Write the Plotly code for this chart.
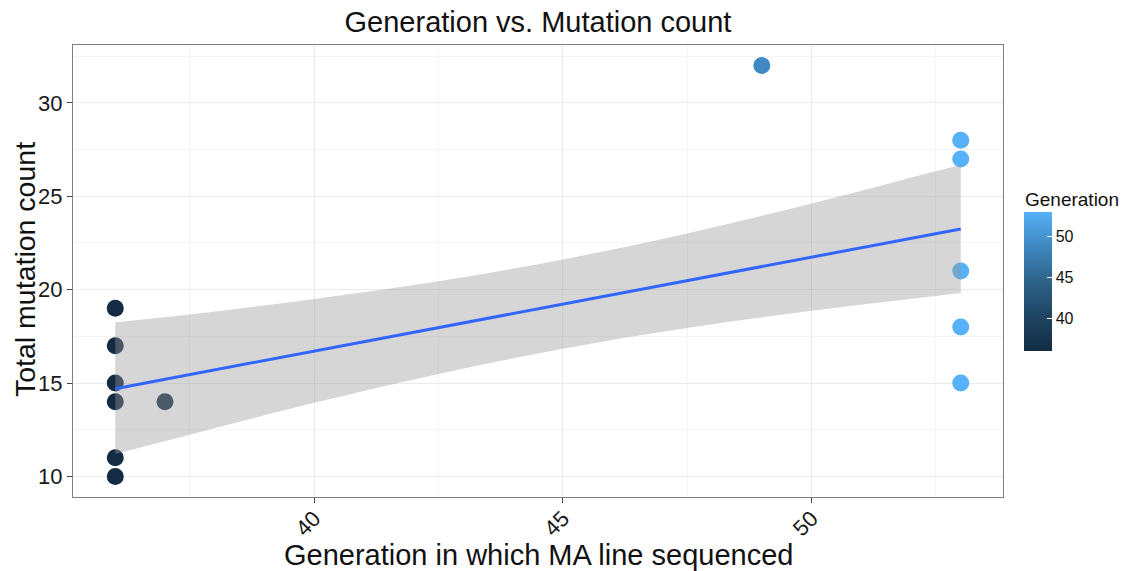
import plotly.graph_objects as go

# Generation at which each MA line was sequenced, and its total mutation count
generation = [36, 36, 36, 36, 36, 36, 37, 49, 53, 53, 53, 53, 53]
mutations = [10, 11, 14, 15, 17, 19, 14, 32, 15, 18, 21, 27, 28]

# Linear trend (lm smoother) and its 95% confidence band
trend_x = [36, 53]
trend_y = [14.70, 23.25]
band_x = [36, 37.5, 40, 42.5, 45, 47.5, 50, 52.5, 53]
band_lower = [11.20, 12.23, 13.94, 15.49, 16.84, 17.95, 18.87, 19.66, 19.82]
band_upper = [18.25, 18.67, 19.50, 20.45, 21.62, 23.01, 24.61, 26.34, 26.67]

x_ticks = [40, 45, 50]
y_ticks = [10, 15, 20, 25, 30]
cbar_ticks = [40, 45, 50]

FONT = "Liberation Sans, Arial, Helvetica, sans-serif"

# plot area in pixels: left 73, right 1003, top 45, bottom 497
def px_x(p):
    return (p - 73) / 930

def px_y(p):
    return (497 - p) / 452

fig = go.Figure()

fig.add_trace(go.Scatter(
    x=generation, y=mutations, mode="markers",
    marker=dict(
        size=17, color=generation, cmin=min(generation), cmax=max(generation),
        colorscale=[[0, "#132B43"], [0.25, "#1F4563"], [0.5, "#2D6288"],
                    [0.75, "#3F87C0"], [1, "#56B1F7"]],
        line=dict(width=0),
        showscale=True,
        colorbar=dict(
            x=px_x(1024), xanchor="left",
            y=px_y(281.5), yanchor="middle",
            len=139, lenmode="pixels", ypad=0, xpad=0,
            thickness=28, outlinewidth=0,
            tickvals=cbar_ticks, ticks="inside", ticklen=5,
            tickcolor="white", tickwidth=1,
            tickfont=dict(family=FONT, size=16, color="#111"),
        ),
    ),
    showlegend=False, hoverinfo="x+y",
))

# confidence band: lower edge, then upper edge filled down to it
fig.add_trace(go.Scatter(
    x=band_x, y=band_lower, mode="lines", line=dict(width=0, shape="spline"),
    showlegend=False, hoverinfo="skip",
))
fig.add_trace(go.Scatter(
    x=band_x, y=band_upper, mode="lines", line=dict(width=0, shape="spline"),
    fill="tonexty", fillcolor="rgba(153,153,153,0.4)",
    showlegend=False, hoverinfo="skip",
))

fig.add_trace(go.Scatter(
    x=trend_x, y=trend_y, mode="lines", line=dict(color="#3366FF", width=3),
    showlegend=False, hoverinfo="skip",
))

axis_common = dict(
    showline=True, linecolor="#7F7F7F", linewidth=1, mirror=True,
    showgrid=True, gridcolor="#EBEBEB", gridwidth=1,
    minor=dict(showgrid=True, gridcolor="#F5F5F5", gridwidth=1),
    ticks="outside", ticklen=5, tickcolor="#444", tickwidth=1,
    tickfont=dict(family=FONT, size=22, color="#1a1a1a"),
    zeroline=False,
)

fig.update_xaxes(range=[35.15, 53.85], tickvals=x_ticks, tickangle=-45,
                 ticklabelstandoff=-6,
                 minor_dtick=2.5, minor_tick0=37.5, **axis_common)
fig.update_yaxes(range=[8.9, 33.1], tickvals=y_ticks,
                 minor_dtick=2.5, minor_tick0=12.5, **axis_common)

fig.update_layout(
    width=1121, height=571,
    margin=dict(l=73, r=118, t=45, b=74, autoexpand=False),
    paper_bgcolor="white", plot_bgcolor="white",
    font=dict(family=FONT, color="#111"),
    title=dict(text="Generation vs. Mutation count", x=0.5, xref="paper",
               y=1 - 22 / 571, yref="container", yanchor="middle",
               font=dict(family=FONT, size=29, color="#111")),
    annotations=[
        dict(text="Generation in which MA line sequenced", xref="paper", yref="paper",
             x=0.5, y=px_y(555), xanchor="center", yanchor="middle", showarrow=False,
             font=dict(family=FONT, size=29, color="#111")),
        dict(text="Total mutation count", xref="paper", yref="paper",
             x=px_x(25), y=px_y(270), xanchor="center", yanchor="middle", showarrow=False,
             textangle=-90, font=dict(family=FONT, size=28.5, color="#111")),
        dict(text="Generation", xref="paper", yref="paper",
             x=px_x(1023), y=px_y(199), xanchor="left", yanchor="middle",
             showarrow=False, font=dict(family=FONT, size=19, color="#111")),
    ],
)

fig.write_html("out.html")
